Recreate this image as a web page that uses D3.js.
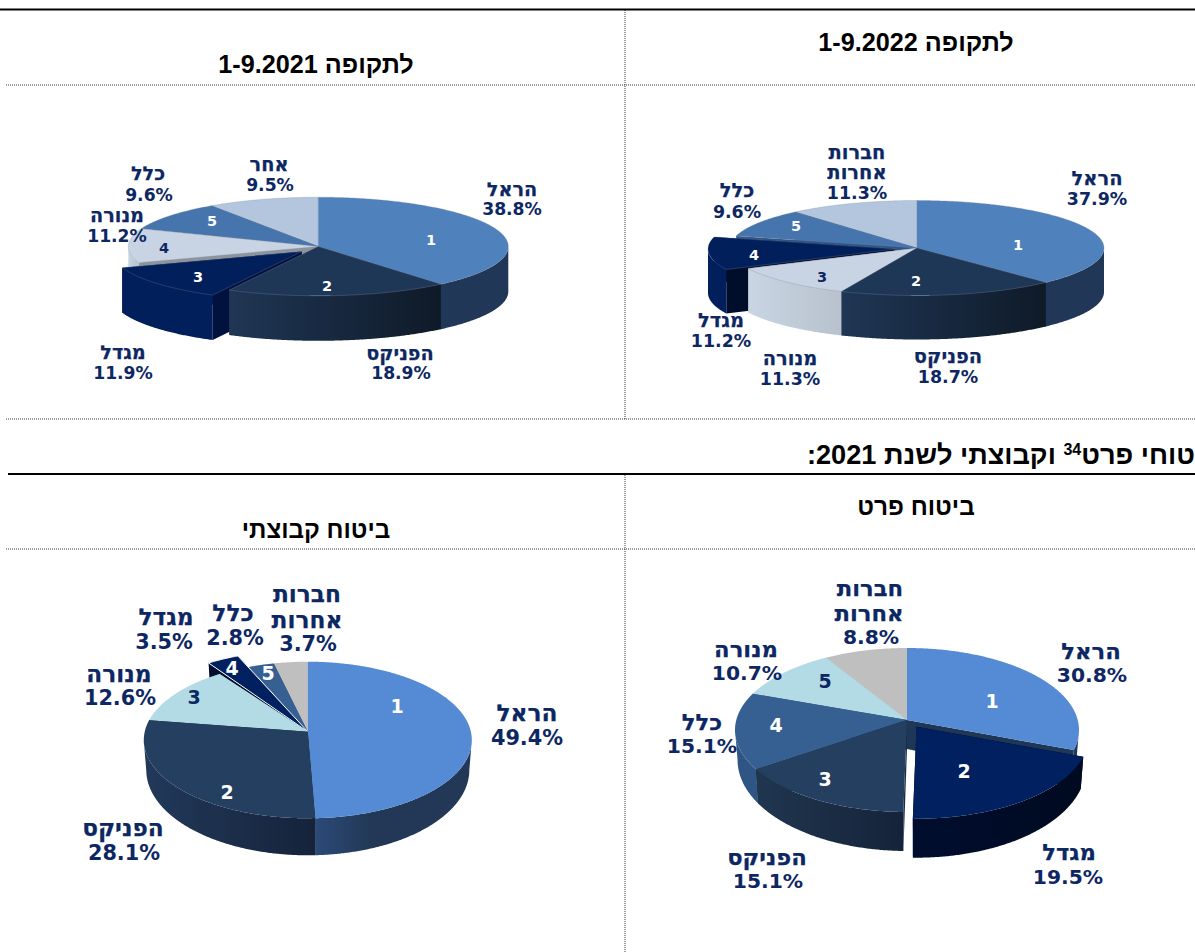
<!DOCTYPE html>
<html lang="he">
<head>
<meta charset="utf-8">
<script src="https://cdnjs.cloudflare.com/ajax/libs/d3/7.8.5/d3.min.js"></script>
<style>
html,body{margin:0;padding:0;background:#fff;overflow:hidden}
svg{display:block}
.lab{font-family:"DejaVu Sans",sans-serif;font-weight:700;fill:#0d2763;text-anchor:middle;dominant-baseline:central}
.num{font-family:"DejaVu Sans",sans-serif;font-weight:700;text-anchor:middle;dominant-baseline:central}
.head{font-family:"Liberation Sans",Arial,sans-serif;font-weight:700;fill:#000}
</style>
</head>
<body>
<svg id="c" width="1195" height="952"></svg>
<script>
// ---- data ----
const names2022 = ["הראל","הפניקס","מנורה","מגדל","כלל","חברות אחרות"];
const values2022 = [37.9,18.7,11.3,11.2,9.6,11.3];
const names2021 = ["הראל","הפניקס","מגדל","מנורה","כלל","אחר"];
const values2021 = [38.8,18.9,11.9,11.2,9.6,9.5];
const namesPrivate = ["הראל","מגדל","הפניקס","כלל","מנורה","חברות אחרות"];
const valuesPrivate = [30.8,19.5,15.1,15.1,10.7,8.8];
const namesGroup = ["הראל","הפניקס","מנורה","מגדל","כלל","חברות אחרות"];
const valuesGroup = [49.4,28.1,12.6,3.5,2.8,3.7];
const sliceNumbers = ["1","2","3","4","5"];
const titleTopRight = "לתקופה 1-9.2022";
const titleTopLeft = "לתקופה 1-9.2021";
const titleBottomRight = "ביטוח פרט";
const titleBottomLeft = "ביטוח קבוצתי";

// ---- layout and style of each pie ----
const pies = [
 {names:names2022,values:values2022,cx:917,cy:248,rx:187,ry:47.5,lift:0,dSide:44,dFront:44,shrink:0,
  stroke:"#7f8ea3",explode:3,off:[-22,1],tip:[-22,1],halo:false,
  tops:["#4f81bd","#1f3757","#c8d4e3","#001f5b","#4675ae","#b3c6de"],
  wallA:["#203757","#1f3655","#c9d5e3","#001f5b","#3a6aa5","#b3c6de"],
  wallB:["#203757","#0f1a28","#b8c2ce","#001f5b","#3a6aa5","#b3c6de"],
  faces:["#1f3757","#1f3757","#b8c2ce","#000d2b","#2e5585","#8a9bb0"],
  numFill:["#fff","#fff","#0d2763","#fff","#fff"],numSize:14.5,labSize:17.4,
  lab:[[1097,178,1097,199],[948,356,948,377],[790,358,790,379],[721,320,721,341],[737,190,737,212],[857,152,857,172,857,193]],
  num:[[1018,245],[916,281],[822,277],[754,255],[796,226]]},
 {names:names2021,values:values2021,cx:318.3,cy:246.5,rx:190,ry:49.3,lift:0,dSide:45,dFront:45,shrink:0,
  stroke:"#7f8ea3",explode:2,off:[-16.6,5],tip:[-16.6,5],halo:false,
  tops:["#4f81bd","#1f3757","#001f5b","#c8d4e3","#4675ae","#b3c6de"],
  wallA:["#203757","#1f3655","#001f5b","#c9d5e3","#3a6aa5","#b3c6de"],
  wallB:["#203757","#0f1a28","#001f5b","#b8c2ce","#3a6aa5","#b3c6de"],
  faces:["#1f3757","#1f3757","#00123d","#8d949c","#2e5585","#8a9bb0"],
  numFill:["#fff","#fff","#fff","#0d2763","#fff"],numSize:14.5,labSize:17.2,
  lab:[[512,189,512,209],[400,353,401,373],[123,352,123,373],[117,215,117,236],[148,173,149,195],[269,164,270,185]],
  num:[[431,240],[327,286],[198,277],[164,248],[212,221]]},
 {names:namesPrivate,values:valuesPrivate,cx:907,cy:730,rx:172,ry:82,lift:10,dSide:30,dFront:39,shrink:.015,
  stroke:null,explode:1,off:[9.5,6.7],tip:[9.5,6.7],halo:false,
  tops:["#558ad4","#002060","#243f60","#376092","#b2dbe5","#bfbfbf"],
  wallA:["#1f3757","#000d2e","#20364f","#2f5585","#9dc3cc","#a8a8a8"],
  wallB:["#1f3757","#000a20","#15233a","#2f5585","#9dc3cc","#a8a8a8"],
  faces:["#1f3757","#000a20","#1a2c44","#2f5585","#9dc3cc","#a8a8a8"],
  numFill:["#fff","#fff","#fff","#fff","#0d2763"],numSize:19,labSize:20.3,
  lab:[[1091,651,1092,675],[1069,852,1068,877],[767,857,768,881],[702,722,702,746],[746,649,747,673],[870,588,869,613,871,637]],
  num:[[992,701],[964,771],[825,779],[776,725],[825,681]]},
 {names:namesGroup,values:valuesGroup,cx:307.8,cy:740,rx:164,ry:78.3,lift:8.3,dSide:30,dFront:37,shrink:.015,
  stroke:null,explode:3,off:[-11,-11],tip:[0,0],halo:true,
  tops:["#558ad4","#243f60","#b2dbe5","#002060","#376092","#bfbfbf"],
  wallA:["#2c4a78","#22395a","#9dc3cc","#000d2e","#2f5585","#a8a8a8"],
  wallB:["#223856","#15233a","#9dc3cc","#000d2e","#2f5585","#a8a8a8"],
  faces:["#223856","#1a2c44","#9dc3cc","#000d2e","#2f5585","#a8a8a8"],
  numFill:["#fff","#fff","#0d2763","#fff","#fff"],numSize:19,labSize:20.8,
  lab:[[527,712,527,738],[123,827,124,853],[119,673,120,698],[166,616,164,642],[233,612,235,638],[307,593,307,619,308,644]],
  num:[[397,706],[227,792],[194,697],[232,668],[268,673]]}
];
const hebrewScale = 1.12;

// ---- frame ----
const svg = d3.select("#c");
const defs = svg.append("defs");
const frame = svg.append("g");
const dotted = "#3a3a3a";
[[6,85,1195,85],[6,419,1195,419],[6,549,1195,549],[625,10,625,419],[625,475,625,952]].forEach(l=>{
  frame.append("line").attr("x1",l[0]).attr("y1",l[1]).attr("x2",l[2]).attr("y2",l[3])
    .attr("stroke",dotted).attr("stroke-width",1).attr("stroke-dasharray","1 1");
});
[[0,9.5,1195,9.5],[8,474,1195,474]].forEach(l=>{
  frame.append("line").attr("x1",l[0]).attr("y1",l[1]).attr("x2",l[2]).attr("y2",l[3])
    .attr("stroke","#000").attr("stroke-width",2);
});
function title(txt,x,y,size){
  frame.append("text").attr("class","head").attr("x",x).attr("y",y).attr("text-anchor","middle")
    .attr("direction","rtl").style("font-size",size+"px").text(txt);
}
title(titleTopRight,916,51,25.2);
title(titleTopLeft,316,73,25.2);
title(titleBottomRight,916,515,24.4);
title(titleBottomLeft,316,538,24.2);
const sec = frame.append("text").attr("class","head").attr("x",1195).attr("y",464)
  .attr("direction","rtl").attr("text-anchor","start").style("font-size","27.2px");
sec.append("tspan").text("טוחי פרט");
sec.append("tspan").attr("dy",-9).style("font-size","16px").text("34");
sec.append("tspan").attr("dy",9).text(" וקבוצתי לשנת 2021:");
frame.append("text").attr("class","head").attr("x",1107).attr("y",-14).attr("text-anchor","end")
  .style("font-size","27px").text("ק");

// ---- pies ----
const line = d3.line();
pies.forEach((p,pi)=>{
  const sx = d3.scaleLinear().domain([-1,1]).range([p.cx-p.rx,p.cx+p.rx]);
  const sy = d3.scaleLinear().domain([-1,1]).range([p.cy-p.ry,p.cy+p.ry]);
  const e = p.lift/p.ry;
  const arcs = d3.pie().sort(null).value(d=>d).startAngle(0).endAngle(2*Math.PI)(p.values);
  // perspective projection of a point of the unit disc
  const warp = (X,Y)=>{const k=1-e*Y;return [X*Math.sqrt(1-e*e)/k,(Y-e)/k];};
  const rim = t=>warp(Math.sin(t),-Math.cos(t));
  const topPt = (u,o)=>[sx(u[0])+o[0],sy(u[1])+o[1]];
  const botPt = (u,o)=>[sx(u[0]*(1-p.shrink))+o[0],sy(u[1])+o[1]+p.dSide+(p.dFront-p.dSide)*u[1]];
  const apex = warp(0,0);
  const order = arcs.map((a,i)=>i).sort((a,b)=>
    -Math.cos((arcs[a].startAngle+arcs[a].endAngle)/2)+Math.cos((arcs[b].startAngle+arcs[b].endAngle)/2));
  const g = svg.append("g");
  order.forEach(i=>{
    const a = arcs[i];
    const off = i===p.explode?p.off:[0,0];
    const tip = i===p.explode?p.tip:[0,0];
    const n = Math.max(2,Math.ceil((a.endAngle-a.startAngle)/0.008));
    const ts = d3.range(n+1).map(k=>a.startAngle+(a.endAngle-a.startAngle)*k/n);
    const us = ts.map(rim);
    // radial faces
    [us[0],us[n]].forEach(u=>{
      g.append("path").attr("fill",p.faces[i])
       .attr("d",line([topPt(apex,tip),topPt(u,off),botPt(u,off),botPt(apex,tip)])+"Z");
    });
    // outer wall
    const vis = us.filter(u=>u[1]>=0);
    if(vis.length>1){
      const topRun = vis.map(u=>topPt(u,off));
      const botRun = vis.map(u=>botPt(u,off)).reverse();
      const xs = topRun.map(d=>d[0]);
      const id = `w${pi}_${i}`;
      const gr = defs.append("linearGradient").attr("id",id).attr("gradientUnits","userSpaceOnUse")
        .attr("x1",d3.min(xs)).attr("x2",d3.max(xs)).attr("y1",0).attr("y2",0);
      gr.append("stop").attr("offset",0).attr("stop-color",p.wallA[i]);
      gr.append("stop").attr("offset",i===0&&pi===3?.35:1).attr("stop-color",p.wallB[i]);
      g.append("path").attr("fill",`url(#${id})`).attr("d",line(topRun.concat(botRun))+"Z");
    }
    // top face
    const top = g.append("path").attr("fill",p.tops[i])
      .attr("d",line([topPt(apex,tip)].concat(us.map(u=>topPt(u,off))))+"Z");
    if(p.stroke) top.attr("stroke",p.stroke).attr("stroke-width",.5).attr("stroke-opacity",.6);
    else if(p.halo&&i===p.explode) top.attr("stroke","#fff").attr("stroke-width",1);
  });
  // labels
  p.names.forEach((nm,i)=>{
    const words = nm.split(" ");
    const lines = words.concat([p.values[i].toFixed(1)+"%"]);
    lines.forEach((t,k)=>{
      const isName = k<words.length;
      g.append("text").attr("class","lab").attr("x",p.lab[i][2*k]).attr("y",p.lab[i][2*k+1])
        .style("font-size",(isName?p.labSize*hebrewScale:p.labSize)+"px")
        .attr("stroke",isName?"#0d2763":"none").attr("stroke-width",.25).text(t);
    });
  });
  sliceNumbers.forEach((t,i)=>{
    g.append("text").attr("class","num").attr("x",p.num[i][0]).attr("y",p.num[i][1])
      .attr("fill",p.numFill[i]).style("font-size",p.numSize+"px").text(t);
  });
});
</script>
</body>
</html>
